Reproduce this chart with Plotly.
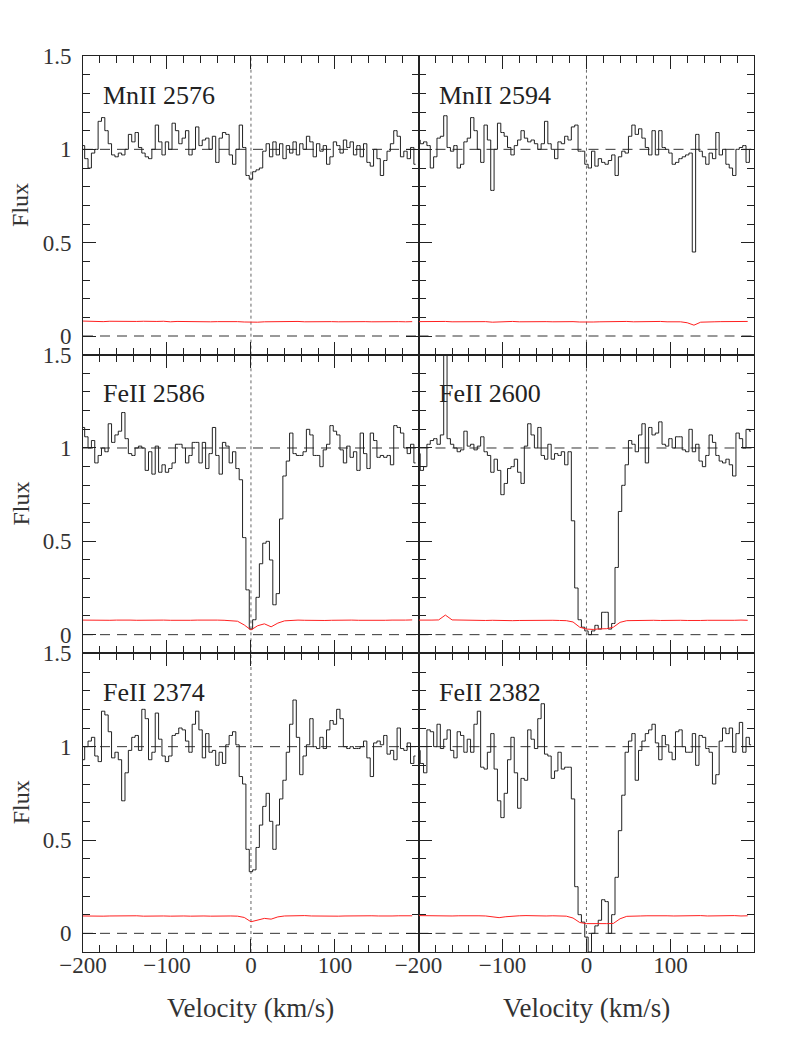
import numpy as np
import plotly.graph_objects as go
from plotly.subplots import make_subplots

# velocity grid of the spectra (km/s), pixel centres
velocity = np.arange(-200, 200, 4)
# coarser grid for the error spectra
err_velocity = np.arange(-200, 200, 8)

flux_mn2576 = [1.02, 0.95, 0.90, 0.98, 1.00, 1.15, 1.17, 1.10, 1.03, 0.97,
               0.96, 0.98, 0.97, 1.00, 1.08, 1.04, 1.09, 1.01, 0.98, 0.96,
               0.95, 1.00, 1.13, 1.04, 0.97, 1.04, 1.00, 1.14, 1.10, 1.03,
               1.06, 1.10, 0.97, 1.00, 1.12, 1.02, 1.05, 1.06, 1.00, 1.07,
               0.93, 1.06, 1.09, 1.08, 0.97, 0.92, 1.00, 1.13, 1.01, 0.86,
               0.84, 0.88, 0.89, 0.90, 0.99, 1.03, 0.96, 1.04, 0.97, 1.03,
               0.95, 1.02, 0.98, 1.04, 0.97, 1.03, 1.00, 1.07, 1.04, 0.96,
               1.03, 0.99, 1.02, 0.92, 0.96, 1.04, 1.02, 0.98, 1.05, 1.01,
               1.04, 0.97, 1.02, 0.96, 1.03, 0.93, 0.91, 1.00, 0.95, 0.86,
               0.94, 0.99, 1.03, 1.10, 1.07, 0.96, 0.99, 0.95, 1.01, 0.92]

flux_mn2594 = [1.05, 1.03, 1.04, 1.02, 0.90, 0.96, 1.06, 1.07, 1.18, 1.01,
               0.99, 1.02, 0.90, 0.92, 1.04, 1.06, 1.17, 1.10, 1.00, 0.93,
               1.13, 1.05, 0.78, 1.00, 1.14, 1.09, 1.07, 1.01, 0.97, 1.02,
               1.05, 1.10, 1.06, 1.04, 1.05, 1.03, 1.00, 1.03, 1.15, 1.03,
               1.00, 0.95, 1.04, 1.03, 1.07, 1.05, 1.12, 1.13, 0.99, 0.99,
               0.92, 0.90, 0.99, 0.91, 0.95, 0.93, 0.92, 0.94, 0.97, 0.86,
               0.96, 0.99, 0.98, 1.07, 1.13, 1.08, 1.11, 1.06, 1.01, 0.97,
               1.10, 0.97, 1.10, 1.01, 1.00, 0.98, 0.92, 0.93, 0.95, 0.96,
               0.97, 0.98, 0.45, 1.08, 0.99, 0.96, 0.92, 0.98, 0.95, 1.09,
               0.97, 1.00, 0.92, 0.90, 0.86, 1.00, 1.01, 1.02, 0.93, 1.00]

flux_fe2586 = [1.11, 1.06, 1.00, 1.04, 0.92, 0.96, 1.00, 0.98, 1.13, 1.03,
               1.07, 1.09, 1.19, 1.05, 0.97, 0.96, 1.00, 1.01, 1.00, 0.88,
               0.98, 0.86, 1.01, 0.87, 0.91, 0.87, 0.89, 0.92, 1.02, 1.02,
               1.00, 0.92, 0.96, 1.03, 1.03, 0.92, 1.03, 0.89, 0.97, 1.11,
               0.96, 0.86, 1.03, 1.01, 0.92, 0.98, 0.89, 0.83, 0.52, 0.24,
               0.03, 0.08, 0.20, 0.38, 0.49, 0.50, 0.40, 0.16, 0.22, 0.62,
               0.85, 0.93, 1.08, 0.97, 0.96, 0.96, 0.98, 1.10, 1.07, 0.96,
               0.96, 0.90, 0.99, 1.02, 1.12, 1.09, 1.07, 0.99, 0.92, 1.01,
               0.95, 0.98, 0.88, 1.08, 0.97, 0.89, 1.08, 1.04, 0.95, 0.96,
               0.95, 0.96, 0.91, 1.12, 1.11, 1.08, 1.00, 0.97, 1.02, 0.92]

flux_fe2600 = [0.97, 0.88, 0.90, 1.02, 1.04, 1.05, 1.02, 1.07, 1.55, 1.05,
               1.02, 1.00, 0.98, 0.99, 1.09, 1.01, 1.02, 0.99, 1.01, 1.06,
               0.98, 0.96, 0.87, 0.94, 0.88, 0.75, 0.81, 0.89, 0.90, 0.94,
               0.87, 0.81, 1.01, 1.13, 1.07, 1.00, 1.11, 0.96, 0.94, 1.02,
               0.94, 0.97, 0.96, 0.98, 0.91, 0.98, 0.61, 0.25, 0.08, 0.04,
               0.02, 0.00, 0.02, 0.05, 0.03, 0.12, 0.12, 0.03, 0.06, 0.36,
               0.66, 0.80, 0.91, 1.04, 1.02, 0.98, 1.07, 1.13, 0.92, 1.11,
               1.07, 1.08, 1.14, 1.02, 1.01, 1.05, 1.00, 1.06, 1.06, 0.99,
               0.98, 1.10, 0.98, 1.02, 0.93, 0.90, 0.96, 1.07, 1.03, 0.96,
               0.93, 0.92, 0.94, 0.91, 0.85, 1.08, 1.05, 1.00, 1.10, 1.09]

flux_fe2374 = [0.93, 1.00, 1.03, 1.05, 0.95, 0.92, 1.19, 1.17, 1.08, 0.94,
               0.97, 0.93, 0.71, 0.86, 0.98, 1.05, 1.06, 0.98, 1.20, 1.15,
               0.93, 0.97, 1.18, 1.04, 0.95, 0.92, 0.95, 1.06, 1.07, 1.10,
               1.09, 1.03, 0.97, 1.12, 1.19, 1.09, 0.94, 1.07, 0.97, 0.98,
               0.90, 0.97, 0.91, 1.01, 1.06, 1.08, 1.01, 0.84, 0.80, 0.45,
               0.33, 0.34, 0.46, 0.58, 0.68, 0.75, 0.60, 0.45, 0.58, 0.72,
               0.82, 0.97, 1.12, 1.25, 1.05, 0.85, 0.95, 1.01, 1.15, 1.00,
               0.99, 1.05, 0.99, 1.09, 1.14, 1.12, 1.20, 1.15, 1.00, 0.99,
               1.00, 0.99, 0.99, 1.00, 1.03, 0.94, 0.84, 1.02, 1.03, 1.01,
               1.06, 0.96, 0.98, 0.93, 1.10, 0.99, 0.98, 1.02, 0.91, 0.95]

flux_fe2382 = [0.98, 0.91, 0.86, 1.09, 1.08, 1.00, 1.12, 0.99, 1.04, 1.09,
               0.98, 0.94, 1.08, 1.06, 0.97, 1.04, 0.97, 1.12, 1.19, 0.89,
               0.88, 0.97, 1.07, 0.88, 0.71, 0.62, 0.75, 0.93, 1.05, 0.86,
               0.67, 0.83, 0.82, 1.09, 1.04, 0.99, 1.15, 1.23, 0.96, 0.95,
               0.83, 0.87, 0.97, 0.88, 0.89, 0.89, 0.72, 0.25, 0.10, 0.06,
               -0.02, -0.10, 0.00, 0.04, 0.07, 0.18, 0.17, 0.00, 0.10, 0.30,
               0.55, 0.74, 0.97, 1.03, 1.07, 0.82, 0.98, 1.03, 1.07, 1.09,
               1.12, 1.02, 0.93, 1.06, 1.01, 0.97, 0.93, 1.08, 1.09, 1.00,
               0.97, 0.97, 1.07, 0.90, 1.06, 1.05, 0.99, 0.97, 0.80, 0.85,
               1.03, 1.10, 1.07, 1.10, 0.97, 1.07, 1.13, 0.97, 1.05, 1.01]

err_mn2576 = [0.080, 0.078, 0.079, 0.077, 0.079, 0.078, 0.080, 0.077, 0.078, 0.079,
              0.077, 0.078, 0.079, 0.076, 0.078, 0.077, 0.079, 0.078, 0.077, 0.076,
              0.077, 0.078, 0.076, 0.077, 0.075, 0.073, 0.074, 0.076, 0.077, 0.078,
              0.076, 0.077, 0.078, 0.076, 0.077, 0.076, 0.078, 0.077, 0.076, 0.077,
              0.078, 0.076, 0.077, 0.076, 0.077, 0.078, 0.076, 0.077, 0.076, 0.077]

err_mn2594 = [0.077, 0.078, 0.076, 0.077, 0.078, 0.076, 0.077, 0.078, 0.077, 0.076,
              0.077, 0.074, 0.076, 0.077, 0.078, 0.076, 0.077, 0.076, 0.078, 0.077,
              0.076, 0.077, 0.076, 0.077, 0.075, 0.074, 0.075, 0.076, 0.077, 0.076,
              0.077, 0.078, 0.076, 0.077, 0.076, 0.077, 0.078, 0.076, 0.077, 0.076,
              0.071, 0.058, 0.074, 0.077, 0.076, 0.077, 0.078, 0.076, 0.077, 0.078]

err_fe2586 = [0.078, 0.077, 0.079, 0.078, 0.077, 0.078, 0.076, 0.078, 0.077, 0.078,
              0.079, 0.077, 0.078, 0.077, 0.076, 0.078, 0.077, 0.078, 0.079, 0.077,
              0.078, 0.077, 0.076, 0.072, 0.052, 0.025, 0.048, 0.058, 0.042, 0.062,
              0.074, 0.077, 0.078, 0.077, 0.078, 0.077, 0.076, 0.077, 0.078, 0.077,
              0.078, 0.077, 0.076, 0.077, 0.075, 0.077, 0.078, 0.077, 0.078, 0.079]

err_fe2600 = [0.078, 0.077, 0.078, 0.079, 0.105, 0.079, 0.078, 0.077, 0.078, 0.077,
              0.076, 0.077, 0.075, 0.074, 0.075, 0.076, 0.077, 0.076, 0.077, 0.076,
              0.077, 0.076, 0.075, 0.068, 0.040, 0.030, 0.028, 0.031, 0.032, 0.040,
              0.066, 0.075, 0.076, 0.077, 0.076, 0.077, 0.076, 0.075, 0.076, 0.077,
              0.076, 0.075, 0.076, 0.077, 0.076, 0.075, 0.076, 0.077, 0.078, 0.077]

err_fe2374 = [0.093, 0.092, 0.095, 0.092, 0.093, 0.094, 0.092, 0.093, 0.094, 0.092,
              0.093, 0.094, 0.093, 0.092, 0.094, 0.093, 0.092, 0.094, 0.093, 0.092,
              0.093, 0.094, 0.093, 0.092, 0.085, 0.062, 0.072, 0.080, 0.076, 0.088,
              0.093, 0.094, 0.093, 0.095, 0.093, 0.092, 0.094, 0.093, 0.092, 0.093,
              0.094, 0.092, 0.093, 0.094, 0.093, 0.092, 0.093, 0.094, 0.093, 0.094]

err_fe2382 = [0.095, 0.094, 0.093, 0.095, 0.094, 0.093, 0.094, 0.095, 0.093, 0.094,
              0.093, 0.090, 0.084, 0.089, 0.093, 0.094, 0.095, 0.093, 0.094, 0.093,
              0.094, 0.093, 0.092, 0.082, 0.058, 0.052, 0.051, 0.050, 0.052, 0.053,
              0.078, 0.091, 0.094, 0.093, 0.094, 0.095, 0.093, 0.094, 0.093, 0.094,
              0.093, 0.094, 0.095, 0.093, 0.094, 0.093, 0.094, 0.095, 0.093, 0.094]

panels = [
    ('MnII 2576', flux_mn2576, err_mn2576, 1, 1),
    ('MnII 2594', flux_mn2594, err_mn2594, 1, 2),
    ('FeII 2586', flux_fe2586, err_fe2586, 2, 1),
    ('FeII 2600', flux_fe2600, err_fe2600, 2, 2),
    ('FeII 2374', flux_fe2374, err_fe2374, 3, 1),
    ('FeII 2382', flux_fe2382, err_fe2382, 3, 2),
]

FONT = 'Liberation Serif'
INK = '#222222'

fig = make_subplots(rows=3, cols=2, horizontal_spacing=0, vertical_spacing=0)

for label, flux, err, row, col in panels:
    fig.add_scatter(x=velocity, y=flux, mode='lines',
                    line=dict(shape='hvh', color=INK, width=1), row=row, col=col)
    fig.add_scatter(x=err_velocity, y=err, mode='lines',
                    line=dict(color='#ff2020', width=1), row=row, col=col)
    for level in (0, 1):
        fig.add_hline(y=level, line=dict(color='#333333', width=1, dash='10px,7px'),
                      layer='below', row=row, col=col)
    fig.add_vline(x=0, line=dict(color='#666666', width=1, dash='dot'),
                  layer='below', row=row, col=col)
    fig.add_annotation(text=label, x=-178, y=1.29, xanchor='left', yanchor='middle',
                       showarrow=False, font=dict(family=FONT, size=26, color=INK),
                       row=row, col=col)

fig.update_xaxes(range=[-200, 199.5], tick0=0, dtick=100,
                 ticks='inside', ticklen=13, tickwidth=1, tickcolor=INK,
                 minor=dict(dtick=20, ticks='inside', ticklen=7, tickcolor=INK),
                 showline=True, linecolor=INK, linewidth=1, mirror='allticks',
                 showgrid=False, zeroline=False, showticklabels=False,
                 ticklabelstandoff=-8,
                 tickfont=dict(family=FONT, size=23, color='#333333'))
fig.update_xaxes(showticklabels=True, row=3)

fig.update_yaxes(range=[-0.1, 1.5], tick0=0, dtick=0.5,
                 ticks='inside', ticklen=13, tickwidth=1, tickcolor=INK,
                 minor=dict(dtick=0.1, ticks='inside', ticklen=7, tickcolor=INK),
                 showline=True, linecolor=INK, linewidth=1, mirror='allticks',
                 showgrid=False, zeroline=False, showticklabels=False,
                 ticklabelstandoff=6,
                 tickfont=dict(family=FONT, size=23, color='#333333'))
fig.update_yaxes(showticklabels=True, col=1)

for yc in (5 / 6, 0.5, 1 / 6):
    fig.add_annotation(text='Flux', xref='paper', yref='paper', x=-0.093, y=yc,
                       xanchor='center', yanchor='middle', textangle=-90, showarrow=False,
                       font=dict(family=FONT, size=24, color='#333333'))

for xc in (0.25, 0.75):
    fig.add_annotation(text='Velocity (km/s)', xref='paper', yref='paper', x=xc, y=-0.0625,
                       xanchor='center', yanchor='middle', showarrow=False,
                       font=dict(family=FONT, size=27, color='#333333'))

fig.update_layout(width=795, height=1059, showlegend=False,
                  margin=dict(l=75, r=49, t=48, b=115),
                  paper_bgcolor='white', plot_bgcolor='white')

fig.write_html("out.html")
